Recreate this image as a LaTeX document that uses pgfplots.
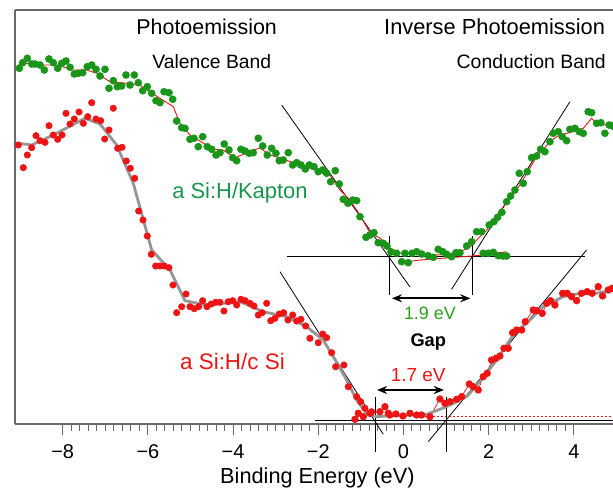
\documentclass[border=0pt]{standalone}
\usepackage{pgfplots}
\pgfplotsset{compat=1.18}
\usepackage{pgfplotstable}
\usepackage{fontspec}
\setmainfont{Liberation Sans}
\usetikzlibrary{arrows.meta}
\definecolor{ptgreen}{RGB}{25,150,25}
\definecolor{txtgreen}{RGB}{25,150,75}
\definecolor{evgreen}{RGB}{45,160,30}
\definecolor{ptred}{RGB}{238,20,20}
\definecolor{fitgray}{RGB}{150,150,150}
\definecolor{axgray}{RGB}{105,105,105}

\pgfplotstableread{
x y
-9.019 355.7
-8.939 361.3
-8.831 365.7
-8.728 360
-8.650 360
-8.533 359
-8.432 354
-8.322 365
-8.221 361.3
-8.117 355.7
-8.023 360.7
-7.923 363
-7.829 356.7
-7.728 350
-7.634 350.7
-7.531 351.3
-7.423 357.3
-7.319 359
-7.218 354.7
-7.124 348
-7.007 354.7
-6.913 335.7
-6.812 343.3
-6.718 337.3
-6.615 338
-6.514 349
-6.420 339
-6.319 349
-6.225 341.3
-6.122 333.3
-6.014 337.3
-5.911 330.7
-5.810 323.3
-5.716 321.3
-5.622 332.3
-5.505 331.3
-5.418 324.7
-5.324 303
-5.207 296.3
-5.129 295.7
-5.012 284.7
-4.918 285.7
-4.817 277.3
-4.714 287.3
-4.606 277.3
-4.502 274.7
-4.401 269
-4.308 271.3
-4.207 280
-4.096 274
-4.009 266.3
-3.915 263.3
-3.815 274.7
-3.721 273
-3.620 270.7
-3.526 271.3
-3.408 285.7
-3.305 278
-3.197 269
-3.094 275.7
-2.993 270.7
-2.915 263.3
-2.822 264
-2.704 271.3
-2.601 259
-2.507 261.3
-2.406 259
-2.305 255
-2.211 259
-2.101 257.3
-2.000 252.3
-1.897 254
-1.803 250.7
-1.709 242.3
-1.601 253.3
-1.507 240
-1.413 224.7
-1.303 220.7
-1.192 224
-1.099 223.3
-1.021 207.3
-0.880 186.7
-0.786 189
-0.692 191.3
-0.592 181.3
-0.474 180.7
-0.387 178
-0.293 172
-0.160 170.7
-0.042 162.3
0.035 170.7
0.113 161.3
0.200 170.7
0.310 172.3
0.427 170
0.582 168.3
0.700 166.7
0.817 174.7
0.920 172.3
1.014 169.7
1.131 167.3
1.232 171.3
1.326 171.3
1.484 178
1.601 182.3
1.873 170.7
1.991 170.7
2.108 171.7
2.225 168.3
2.343 168
2.423 168
1.718 192.3
1.836 192.3
2.014 199
2.124 202.3
2.211 206.7
2.312 211.7
2.423 222.3
2.516 228
2.617 234
2.718 250.7
2.812 240.7
2.906 252.3
3.009 266.3
3.127 268
3.221 274.7
3.322 272.3
3.439 282.3
3.516 290.7
3.634 292.3
3.728 287.3
3.831 283.3
3.908 294.7
4.026 295.7
4.127 292.3
4.221 290.7
4.338 312.3
4.418 311.3
4.535 300.7
4.636 301.3
4.730 290.7
4.831 299
4.911 298
}\greenpts

\pgfplotstableread{
x y
-9.073 358
-8.932 361
-8.533 359
-8.141 359
-7.758 354
-7.437 354
-7.202 350.7
-6.890 342.3
-6.498 340.7
-6.185 339
-5.951 332.3
-5.716 325.7
-5.404 317.3
-5.246 300.7
-5.012 289
-4.707 281
-4.472 275
-4.237 274
-3.955 266
-3.650 272
-3.368 276
-3.134 269
-2.829 265
-2.430 259
-2.031 254
-1.725 249
-1.491 234
-1.256 224
-1.021 209
-0.786 191
-0.552 186
-0.317 176
-0.082 171
0.387 170
0.857 169
1.326 172
1.561 177
1.953 194
2.343 217.3
2.735 239
3.127 267.3
3.479 284
3.674 289
3.986 292.3
4.221 295.7
4.418 305.7
4.535 300.7
4.690 299
4.918 300.7
}\greenfit

\pgfplotstableread{
x y
-0.129 161
0.400 164
1.000 166
1.600 168
2.000 169.5
2.423 172.3
}\greenfitb

\pgfplotstableread{
x y
-9.042 279
-8.925 256.3
-8.831 269
-8.728 276.3
-8.627 288.3
-8.533 283.3
-8.415 281.7
-8.322 298.3
-8.221 289
-8.117 284.7
-8.016 289
-7.923 310.7
-7.829 300
-7.728 305
-7.617 312
-7.516 300.7
-7.413 307.3
-7.319 321.3
-7.218 305
-7.108 303.3
-7.014 285
-6.913 294
-6.812 315.7
-6.709 275.7
-6.608 276.7
-6.507 263
-6.413 255.7
-6.310 245.7
-6.216 213
-6.115 204
-6.014 188
-5.920 169.7
-5.817 158
-5.716 158
-5.615 158
-5.505 156.3
-5.411 139
-5.324 111.3
-5.207 117.3
-5.106 130
-5.012 117.3
-4.911 115.3
-4.808 117.3
-4.714 123.3
-4.613 117.3
-4.512 120
-4.408 121.7
-4.308 121.7
-4.214 113
-4.113 122.3
-4.009 123.3
-3.915 119
-3.815 124.7
-3.714 123.3
-3.603 120.7
-3.509 118
-3.408 109
-3.315 111.3
-3.211 120.7
-3.117 103.3
-3.016 105.7
-2.915 110
-2.812 111.3
-2.711 104
-2.601 109
-2.507 103
-2.406 104.7
-2.296 98
-2.195 85.7
-2.000 81.3
-1.897 90
-1.803 86.3
-1.685 71.3
-1.592 57.3
-1.397 59
-1.296 37.3
-1.099 27.3
-1.005 22.3
-0.904 15.7
-0.746 12.3
}\redptsa

\pgfplotstableread{
x y
-1.138 4.7
-1.061 10.7
-0.944 7.3
-0.786 10.7
-0.552 12.3
-0.434 17.3
-0.357 10.7
-0.317 9
-0.176 10
-0.012 8
0.153 10.7
0.310 9
0.427 9
0.622 7.3
0.857 25
0.974 20.7
1.092 22.3
1.249 24.7
1.366 27.3
1.545 40
1.638 37.3
1.756 34
1.873 47.3
1.967 50.7
2.070 64
2.171 65.7
2.265 68
2.359 75.7
2.460 75.7
2.563 91.3
2.657 94
2.775 94
2.859 102.3
3.047 114
3.127 113.3
3.258 110.7
3.362 120.7
3.455 123.3
3.556 119
3.737 130.7
3.845 130.7
3.948 127.3
4.066 123.3
4.183 130.7
4.315 132.3
4.432 130.7
4.573 137.3
4.676 128
4.808 134
4.901 135.7
}\redptsb

\pgfplotstableread{
x y
-9.042 280.7
-8.728 279
-8.221 289
-7.477 305.7
-7.124 300
-6.732 279
-6.343 240.7
-5.911 174
-5.481 154
-5.129 123.3
-4.620 119
-3.838 122.3
-3.291 112.3
-2.742 107.3
-2.272 97.3
-1.883 84
-1.648 67.3
-1.333 44
-1.099 24
-0.864 10.7
-0.629 7.3
-0.317 8.3
0.545 9.7
1.014 17.3
1.484 27.3
1.796 42.3
2.188 64
2.577 89
2.969 104
3.282 117.3
3.751 127.3
4.143 130.7
4.535 130.7
4.918 134
}\grayfit

\begin{document}
\begin{tikzpicture}
\begin{axis}[
  scale only axis, width=598bp, height=414bp,
  xmin=-9.12, xmax=4.92, ymin=0, ymax=414,
  clip=false,
  axis x line=box, axis y line=left,
  axis line style={axgray, line width=1.3bp, -},
  xtick={-8,-6,-4,-2,0,2,4},
  xticklabels={−8,−6,−4,−2,0,2,4},
  minor x tick num=9,
  xtick pos=lower,
  ytick=\empty,
  tick align=outside,
  major tick length=11bp, minor tick length=7bp,
  every tick/.style={axgray, line width=1bp},
  xticklabel style={font=\fontsize{20}{22}\selectfont, text=black, yshift=-6bp},
  every axis plot/.append style={line join=round},
]
% reference lines
\addplot[black, line width=0.8bp] coordinates {(-2.859,319) (0.153,137)};
\addplot[black, line width=0.8bp] coordinates {(1.131,134.7) (3.908,322.3)};
\addplot[black, line width=0.8bp] coordinates {(-2.742,167.3) (4.261,167.3)};
\addplot[black, line width=0.8bp] coordinates {(-0.324,188) (-0.324,129)};
\addplot[black, line width=0.8bp] coordinates {(1.624,188) (1.624,129)};
\addplot[black, line width=0.8bp] coordinates {(-2.899,152.3) (-0.474,-10.3)};
\addplot[black, line width=0.8bp] coordinates {(0.582,-17.7) (4.300,174)};
\addplot[black, line width=0.8bp] coordinates {(-2.077,3.3) (4.92,3.3)};
\addplot[ptred, line width=1.3bp, dash pattern=on 2.5bp off 1.5bp] coordinates {(-1.185,7.5) (4.92,7.5)};
\addplot[black, line width=0.8bp] coordinates {(-0.669,27.3) (-0.669,-27.7)};
\addplot[black, line width=0.8bp] coordinates {(0.998,27.3) (0.998,-27.7)};
\addplot[black, line width=2bp, {Stealth[length=10bp,width=8bp]}-{Stealth[length=10bp,width=8bp]}] coordinates {(-0.27,125.7) (1.57,125.7)};
\addplot[black, line width=2bp, {Stealth[length=10bp,width=8bp]}-{Stealth[length=10bp,width=8bp]}] coordinates {(-0.62,34) (0.95,34)};
% green data
\addplot[only marks, mark=*, mark size=3.6bp, ptgreen, mark options={draw=ptgreen, fill=ptgreen}] table {\greenpts};
\addplot[ptred, line width=0.9bp, no marks] table {\greenfit};
\addplot[ptred, line width=0.9bp, no marks] table {\greenfitb};
% red data
\addplot[only marks, mark=*, mark size=3.3bp, mark options={draw=ptred, fill=ptred}] table {\redptsa};
\addplot[ptred, line width=0.7bp, mark=*, mark size=3.3bp, mark options={draw=ptred, fill=ptred}] table {\redptsb};
\addplot[fitgray, line width=2.8bp, no marks] table {\grayfit};
% texts
\node[font=\fontsize{21.5}{24}\selectfont] at (axis cs:-4.62,397) {Photoemission};
\node[font=\fontsize{19.4}{22}\selectfont] at (axis cs:-4.50,362) {Valence Band};
\node[font=\fontsize{21.9}{24}\selectfont] at (axis cs:2.14,397) {Inverse Photoemission};
\node[font=\fontsize{19.5}{22}\selectfont] at (axis cs:3.0,362) {Conduction Band};
\node[font=\fontsize{22}{24}\selectfont, text=txtgreen] at (axis cs:-3.838,231) {a Si:H/Kapton};
\node[font=\fontsize{22.5}{24}\selectfont, text=ptred] at (axis cs:-4.014,62.3) {a Si:H/c Si};
\node[font=\fontsize{18}{20}\selectfont, text=evgreen] at (axis cs:0.622,110.7) {1.9 eV};
\node[font=\bfseries\fontsize{18.3}{20}\selectfont] at (axis cs:0.582,82.3) {Gap};
\node[font=\fontsize{19}{21}\selectfont, text=ptred] at (axis cs:0.347,49) {1.7 eV};
\node[font=\fontsize{21.8}{24}\selectfont] at (axis cs:-2.02,-54) {Binding Energy (eV)};
\end{axis}
\pgfresetboundingbox
\path[use as bounding box] (-15bp,-71bp) rectangle (598bp,424bp);
\end{tikzpicture}
\end{document}
